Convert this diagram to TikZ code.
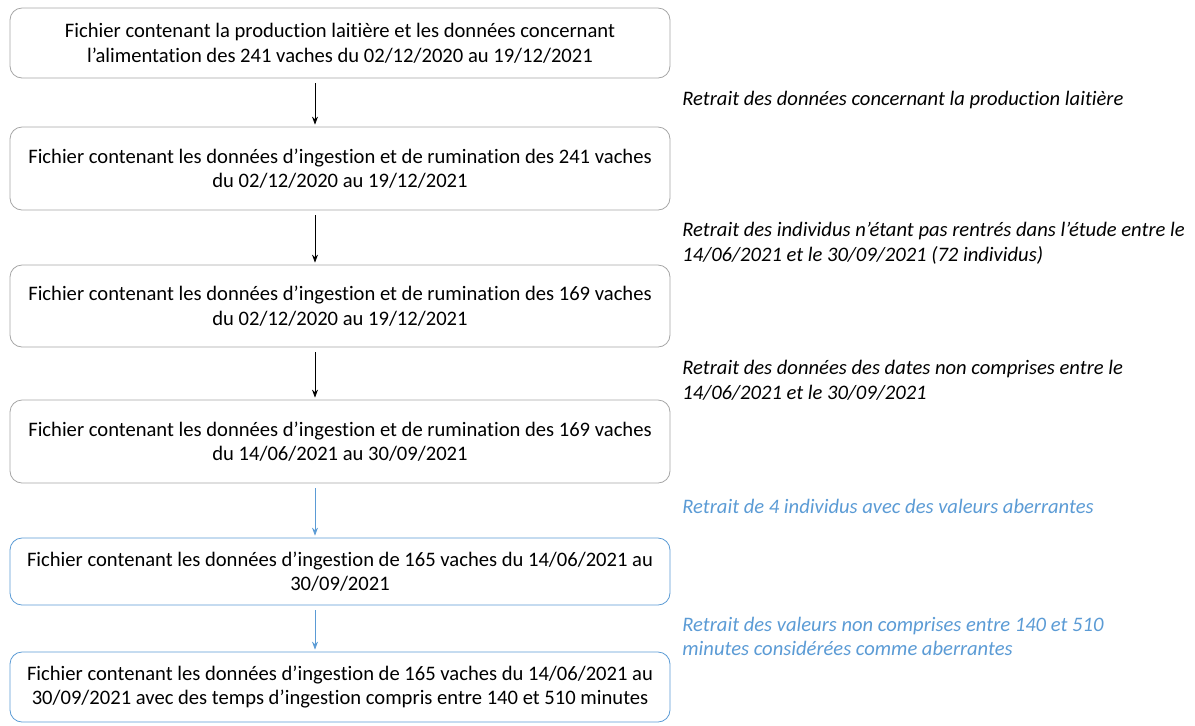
\documentclass[tikz,border=0pt]{standalone}
\usepackage{fontspec}
\setmainfont{Carlito}[Ligatures=NoCommon]
\usepackage{tikz}
\usetikzlibrary{positioning, arrows.meta}

\definecolor{boxgray}{HTML}{A6A6A6}
\definecolor{stepblue}{HTML}{5B9BD5}

\begin{document}
\begin{tikzpicture}[
    x=0.5pt, y=-0.5pt,
    every node/.style={align=flush center},
    block_gray/.style={
        rectangle,
        draw=boxgray,
        fill=white,
        text width=326pt,
        minimum width=330pt,
        inner xsep=2pt,
        rounded corners=6pt,
        font=\fontsize{10.3}{12.3}\selectfont
    },
    block_blue/.style={
        block_gray,
        draw=stepblue
    },
    note_black/.style={
        anchor=west,
        align=left,
        inner sep=0pt,
        font=\fontsize{10.3}{12.3}\selectfont\itshape
    },
    note_blue/.style={
        note_black,
        text=stepblue
    },
    arrow/.style = {draw, -{Stealth[length=4pt, width=3pt]}, shorten <=2.5pt, shorten >=1pt},
    arrow_blue/.style = {arrow, draw=stepblue, -{Stealth[length=4pt, width=3pt, fill=stepblue]}}
]
    \useasboundingbox (0,0) rectangle (1195,725);
    % boites
    \node [block_gray, minimum height=35pt] (lait) at (340,43) {
        Fichier contenant la production laitière et les données concernant\\
        l’alimentation des 241 vaches du 02/12/2020 au 19/12/2021
    };
    \node [block_gray, minimum height=41.5pt] (rum241) at (340,168.5) {
        Fichier contenant les données d’ingestion et de rumination des 241 vaches\\
        du 02/12/2020 au 19/12/2021
    };
    \node [block_gray, minimum height=41pt] (rum169) at (340,306) {
        Fichier contenant les données d’ingestion et de rumination des 169 vaches\\
        du 02/12/2020 au 19/12/2021
    };
    \node [block_gray, minimum height=41.5pt] (periode) at (340,441.5) {
        Fichier contenant les données d’ingestion et de rumination des 169 vaches\\
        du 14/06/2021 au 30/09/2021
    };
    \node [block_blue, minimum height=33.5pt] (ing165) at (340,571.5) {
        Fichier contenant les données d’ingestion de 165 vaches du 14/06/2021 au\\
        30/09/2021
    };
    \node [block_blue, minimum height=35pt] (final) at (340,687) {
        Fichier contenant les données d’ingestion de 165 vaches du 14/06/2021 au\\
        30/09/2021 avec des temps d’ingestion compris entre 140 et 510 minutes
    };
    % etapes
    \node [note_black] (n1) at (682,100) {Retrait des données concernant la production laitière};
    \node [note_black] (n2) at (682,243.5) {Retrait des individus n’étant pas rentrés dans l’étude entre le\\14/06/2021 et le 30/09/2021 (72 individus)};
    \node [note_black] (n3) at (682,380.5) {Retrait des données des dates non comprises entre le\\14/06/2021 et le 30/09/2021};
    \node [note_blue] (n4) at (682,506) {Retrait de 4 individus avec des valeurs aberrantes};
    \node [note_blue] (n5) at (682,636.5) {Retrait des valeurs non comprises entre 140 et 510\\minutes considérées comme aberrantes};
    % fleches
    \coordinate (ax) at (315,0);
    \draw [arrow] (lait.south -| ax) -- (rum241.north -| ax);
    \draw [arrow] (rum241.south -| ax) -- (rum169.north -| ax);
    \draw [arrow] (rum169.south -| ax) -- (periode.north -| ax);
    \draw [arrow_blue] (periode.south -| ax) -- (ing165.north -| ax);
    \draw [arrow_blue] (ing165.south -| ax) -- (final.north -| ax);
\end{tikzpicture}
\end{document}
